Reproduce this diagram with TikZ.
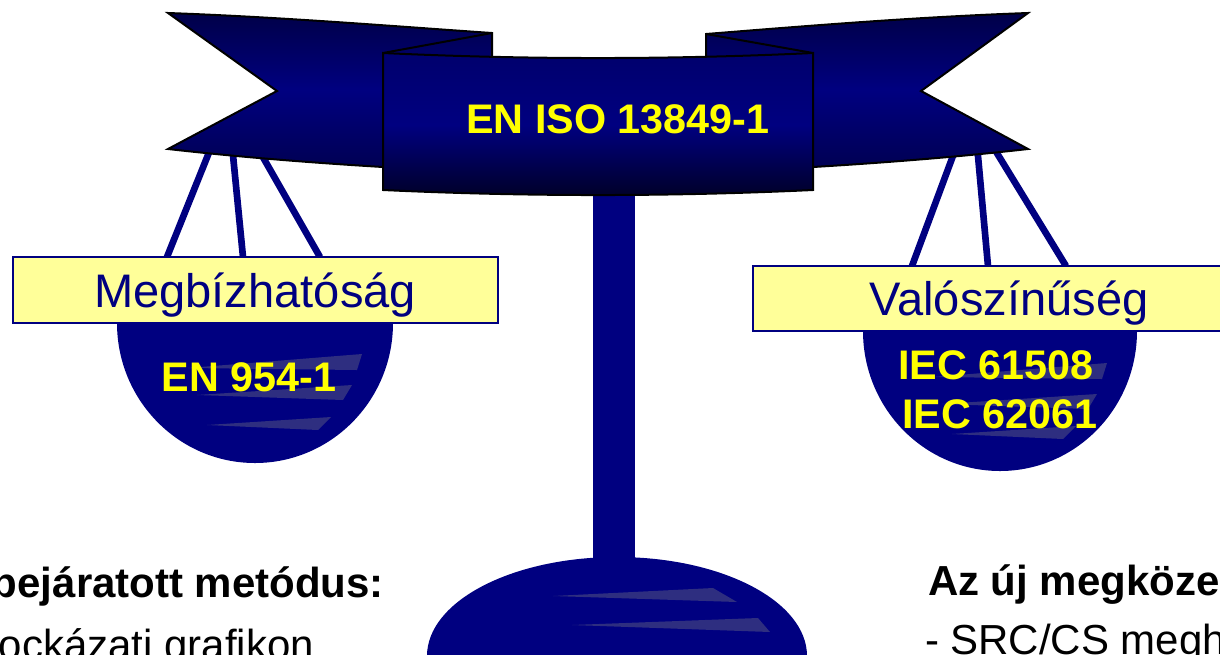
\documentclass[tikz,border=0pt]{standalone}
\usepackage{fontspec}
\setmainfont{Liberation Sans}
\definecolor{navyblue}{RGB}{0,0,128}
\definecolor{deepnavy}{RGB}{0,0,72}
\definecolor{darknavy}{RGB}{0,0,40}
\definecolor{paleyellow}{RGB}{255,255,153}
\definecolor{glintblue}{RGB}{46,46,128}
\definecolor{signyellow}{RGB}{255,255,0}
\begin{document}
\begin{tikzpicture}[x=0.75pt,y=-0.75pt,
  every node/.style={inner sep=0pt,outer sep=0pt},
  cord/.style={draw=navyblue,line width=5pt},
  labelbox/.style={draw=navyblue,fill=paleyellow,line width=1.3pt,rectangle},
  labeltext/.style={anchor=base,text=navyblue,font=\fontsize{35.3}{40}\selectfont},
  standard/.style={anchor=base,text=signyellow,font=\bfseries\fontsize{31}{36}\selectfont},
  glint/.style={fill=glintblue},
  tail/.style={draw=black,line width=1.5pt,top color=deepnavy,bottom color=deepnavy!80!navyblue,middle color=navyblue},
  panel/.style={draw=black,line width=1.5pt,top color=navyblue!85!black,bottom color=darknavy,middle color=navyblue},
  bodytext/.style={text=black,font=\fontsize{31.5}{37}\selectfont},
]
\useasboundingbox (0,0) rectangle (1220,654);
\clip (0,0) rectangle (1220,654);

% label boxes (named, drawn later on top of cords and bowls)
\coordinate (lboxc) at (255.5,290);
\coordinate (rboxc) at (996.5,298.5);

% hanging cords: from under the banner to the label boxes
\coordinate (lt1) at (212,145); \coordinate (lb1) at (167,257);
\coordinate (lt2) at (232,145); \coordinate (lb2) at (243,257);
\coordinate (lt3) at (256,145); \coordinate (lb3) at (320,257);
\coordinate (rt1) at (957,145); \coordinate (rb1) at (912,266);
\coordinate (rt2) at (977,145); \coordinate (rb2) at (988,266);
\coordinate (rt3) at (992,145); \coordinate (rb3) at (1066,266);
\foreach \i in {1,2,3} {
  \draw[cord] (lt\i) -- (lb\i);
  \draw[cord] (rt\i) -- (rb\i);
}

% central pole
\fill[navyblue] (593,180) rectangle (635,600);

% scale pans
\fill[navyblue] (117,323) arc[start angle=180,end angle=0,x radius=138,y radius=140] -- cycle;
\fill[navyblue] (863,331) arc[start angle=180,end angle=0,x radius=137,y radius=140] -- cycle;

% glints on the pans
\foreach \dx/\dy in {0/0,745/9} {
  \begin{scope}[shift={(\dx,\dy)}]
    \fill[glint] (188,368) -- (362,354) -- (357,370) -- cycle;
    \fill[glint] (197,395) -- (352,385) -- (343,400) -- cycle;
    \fill[glint] (207,425) -- (331,417) -- (318,430) -- cycle;
  \end{scope}
}

% label boxes
\node[labelbox,minimum width=363.75pt,minimum height=49.5pt] (lbox) at (lboxc) {};
\node[labelbox,minimum width=365.25pt,minimum height=48.75pt] (rbox) at (rboxc) {};
\node[labeltext] (reliab) at (255,307) {Megbízhatóság};
\node[labeltext] (prob) at (1009,315) {Valószínűség};

% standards in the pans
\node[standard] (en954) at (249,391) {EN 954-1};
\node[standard] (iec61508) at (996,379) {IEC 61508};
\node[standard] (iec62061) at (1000,428) {IEC 62061};

% banner: left and right tails
\path[tail] (168,13) .. controls (280,17) and (390,26) .. (492,33) -- (492,120) -- (383,167)
  .. controls (300,162) and (230,156) .. (168,149) -- (277,91) -- cycle;
\path[tail] (1028,13) .. controls (916,17) and (806,26) .. (706,34) -- (706,120) -- (813,167)
  .. controls (896,162) and (966,156) .. (1028,149) -- (921,91) -- cycle;
\coordinate (lfold) at (492,33); \coordinate (lcorner) at (383,53);
\coordinate (rfold) at (706,34); \coordinate (rcorner) at (813,53);
\draw[line width=1.5pt] (lfold) -- (lcorner);
\draw[line width=1.5pt] (rfold) -- (rcorner);

% banner: front panel
\path[panel] (lcorner) .. controls (526,59.7) and (670,59.7) .. (rcorner) -- (813,190)
  .. controls (670,196.7) and (526,196.7) .. (383,190) -- cycle;
\node[standard] (iso) at (618,133) {EN ISO 13849-1};

% foot of the scale
\fill[navyblue] (617,656) ellipse[x radius=190,y radius=99];
\fill[glint] (553,596) -- (713,588) -- (737,602) -- cycle;
\fill[glint] (572,625) -- (758,618) -- (770,632) -- cycle;

% texts below
\node[bodytext,anchor=base east] (oldhead) at (384,597) {\bfseries bejáratott metódus:};
\node[bodytext,anchor=base east] (oldline) at (314,659) {kockázati grafikon};
\node[bodytext,anchor=base west] (newhead) at (928,595) {\bfseries Az új megközelítés:};
\node[bodytext,anchor=base west] (newline) at (925,654) {- SRC/CS meghatározás};
\end{tikzpicture}
\end{document}
